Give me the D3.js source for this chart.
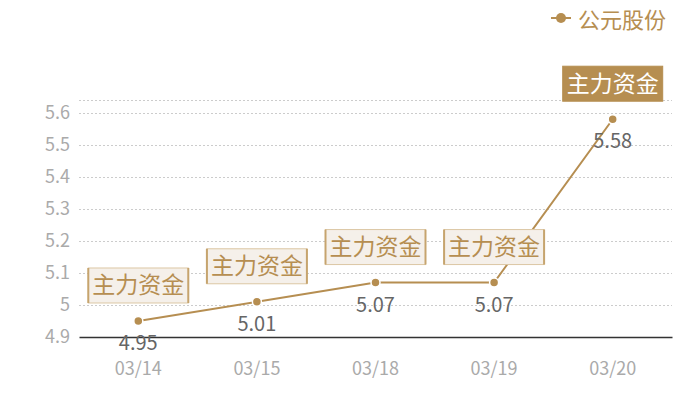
<!DOCTYPE html>
<html lang="zh">
<head>
<meta charset="utf-8">
<title>公元股份</title>
<script src="https://cdn.jsdelivr.net/npm/d3@7"></script>
<style>
  body { margin: 0; background: #fff; }
  text { font-family: "Noto Sans CJK SC", "Noto Sans", sans-serif; }
</style>
</head>
<body>
<script>
// data
var dates = ['03/14', '03/15', '03/18', '03/19', '03/20'];
var prices = [4.95, 5.01, 5.07, 5.07, 5.58];
var flowLabels = ['主力资金', '主力资金', '主力资金', '主力资金', '主力资金'];
var highlighted = [false, false, false, false, true];
var yTicks = [4.9, 5, 5.1, 5.2, 5.3, 5.4, 5.5, 5.6];
var seriesName = '公元股份';

var w = 700, h = 400;
var gold = '#b68e51';
var font = '"Noto Sans CJK SC", "Noto Sans", sans-serif';
var mLeft = 79, mRight = 672, mTop = 100, mBottom = 337;

var svg = d3.select('body').append('svg')
    .attr('width', w)
    .attr('height', h);

var x = d3.scaleBand().domain(dates).range([mLeft, mRight]);
var y = d3.scaleLinear().domain([4.9, 5.64]).range([mBottom, mTop]);

// grid lines
svg.append('g')
   .selectAll('line')
   .data(yTicks.slice(1).concat([5.64]))
   .enter()
   .append('line')
   .attr('x1', mLeft).attr('x2', mRight)
   .attr('y1', function(d){ return Math.round(y(d)) + 0.5; })
   .attr('y2', function(d){ return Math.round(y(d)) + 0.5; })
   .attr('stroke', '#ccc')
   .attr('stroke-dasharray', '2,2');

// y axis labels
var yAxis = d3.axisLeft(y).tickValues(yTicks).tickSize(0).tickPadding(9)
    .tickFormat(function(d){ return String(+d.toFixed(1)); });
svg.append('g')
   .attr('transform', 'translate(' + mLeft + ',0)')
   .attr('font-family', font)
   .call(yAxis)
   .call(function(g){ g.select('.domain').remove(); })
   .selectAll('text')
   .attr('fill', '#aaa')
   .attr('font-size', '18px');

// x axis
var xAxis = d3.axisBottom(x).tickSize(0).tickPadding(25);
var xg = svg.append('g')
   .attr('transform', 'translate(0,' + mBottom + ')')
   .call(xAxis)
   .attr('font-family', font);
xg.select('.domain').attr('stroke', '#333').attr('stroke-width', 1.5);
xg.selectAll('text').attr('fill', '#aaa').attr('font-size', '18px');

var cx = function(d, i){ return x(dates[i]) + x.bandwidth() / 2; };

// line
var line = d3.line()
    .x(function(d, i){ return cx(d, i); })
    .y(function(d){ return y(d); });
svg.append('path')
   .datum(prices)
   .attr('d', line)
   .attr('fill', 'none')
   .attr('stroke', gold)
   .attr('stroke-width', 2);

svg.selectAll('circle.pt')
   .data(prices)
   .enter()
   .append('circle')
   .attr('class', 'pt')
   .attr('cx', cx)
   .attr('cy', function(d){ return y(d); })
   .attr('r', 4.5)
   .attr('fill', gold)
   .attr('stroke', '#fff')
   .attr('stroke-width', 1.5);

// value labels below points
svg.selectAll('text.val')
   .data(prices)
   .enter()
   .append('text')
   .attr('class', 'val')
   .attr('x', cx)
   .attr('y', function(d){ return y(d) + 29; })
   .attr('text-anchor', 'middle')
   .attr('font-size', '20px')
   .attr('fill', '#666')
   .text(function(d){ return d3.format('.2f')(d); });

// flow tags above points
var boxW = 100, boxH = 35;
var tags = svg.selectAll('g.tag')
   .data(prices)
   .enter()
   .append('g')
   .attr('class', 'tag')
   .attr('transform', function(d, i){
       return 'translate(' + (cx(d, i) - boxW / 2) + ',' + (y(d) - 18 - boxH) + ')';
   });
tags.append('rect')
   .attr('width', boxW).attr('height', boxH)
   .attr('fill', function(d, i){ return highlighted[i] ? gold : '#f5f0ea'; })
   .attr('stroke', function(d, i){ return highlighted[i] ? gold : '#dcc7a4'; })
   .attr('stroke-width', 1);
tags.filter(function(d, i){ return !highlighted[i]; })
   .selectAll('line.side')
   .data([0, boxW])
   .enter()
   .append('line')
   .attr('x1', function(d){ return d; }).attr('x2', function(d){ return d; })
   .attr('y1', 0).attr('y2', boxH)
   .attr('stroke', '#c6a46e')
   .attr('stroke-width', 2);
tags.append('text')
   .attr('x', boxW / 2)
   .attr('y', boxH / 2 + 8)
   .attr('text-anchor', 'middle')
   .attr('font-size', '23px')
   .attr('fill', function(d, i){ return highlighted[i] ? '#fff' : gold; })
   .text(function(d, i){ return flowLabels[i]; });

// legend
var lg = svg.append('g').attr('transform', 'translate(551,18)');
lg.append('line').attr('x1', 0).attr('x2', 20).attr('y1', 0).attr('y2', 0)
   .attr('stroke', gold).attr('stroke-width', 2);
lg.append('circle').attr('cx', 10).attr('cy', 0).attr('r', 5).attr('fill', gold);
lg.append('text').attr('x', 27).attr('y', 0)
   .attr('dominant-baseline', 'central')
   .attr('font-size', '22px').attr('fill', gold)
   .text(seriesName);
</script>
</body>
</html>
